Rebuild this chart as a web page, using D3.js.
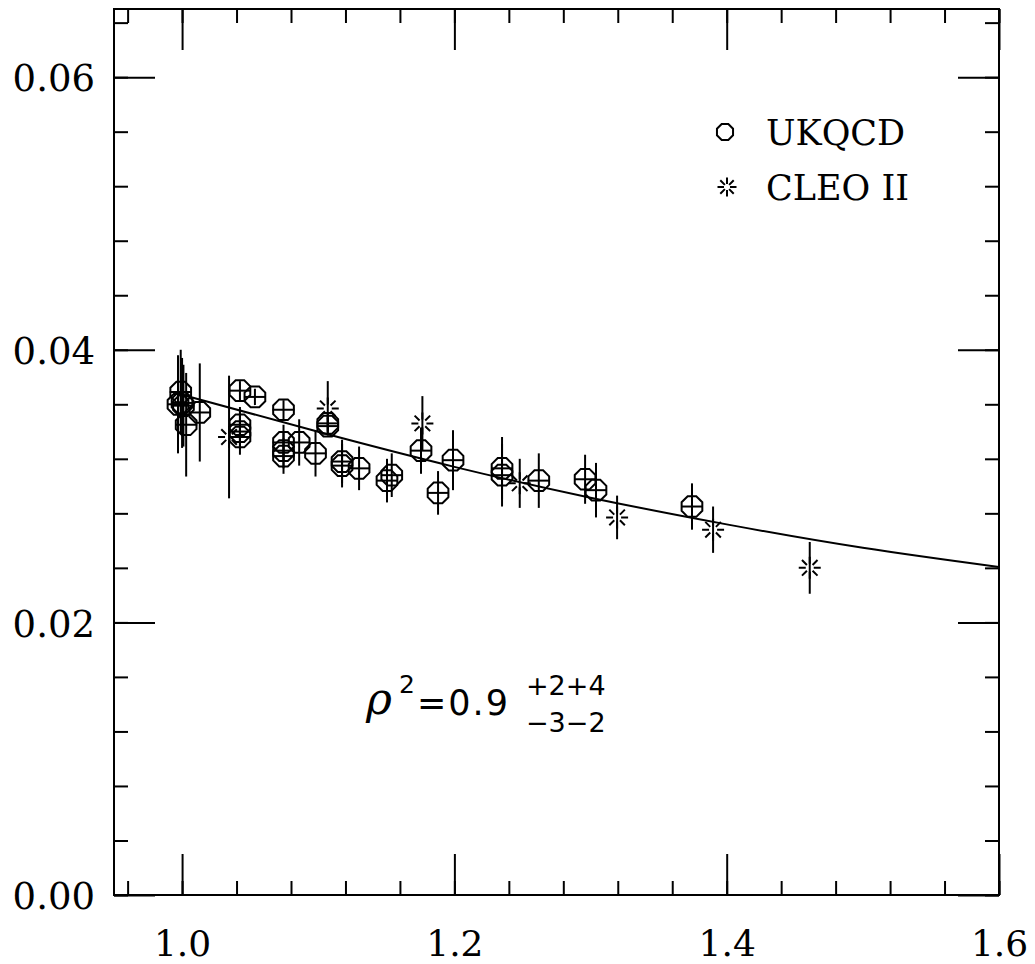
<!DOCTYPE html>
<html><head><meta charset="utf-8">
<script src="https://cdn.jsdelivr.net/npm/d3@7"></script>
<style>body{margin:0;background:#fff;} svg{display:block}</style>
</head><body>
<svg id="chart" width="1035" height="964"></svg>
<script>
// ---- data ----
const ukqcdW   = [0.997, 0.999, 1.000, 1.001, 1.003, 1.013, 1.0425, 1.0425, 1.0425, 1.0425, 1.0535, 1.0745, 1.0745, 1.0745, 1.0745, 1.086, 1.098, 1.107, 1.107, 1.1175, 1.1175, 1.130, 1.1505, 1.154, 1.1755, 1.188, 1.199, 1.235, 1.235, 1.262, 1.296, 1.304, 1.3745];
const ukqcdY   = [0.0360, 0.0369, 0.0361, 0.0359, 0.0345, 0.0354, 0.0370, 0.0345, 0.0340, 0.0336, 0.03654, 0.0356, 0.0332, 0.0326, 0.0322, 0.0332, 0.0324, 0.0346, 0.0344, 0.0318, 0.0315, 0.0313, 0.0304, 0.0308, 0.0326, 0.0295, 0.0319, 0.0313, 0.0308, 0.0304, 0.0305, 0.0297, 0.0285];
const ukqcdErr = [0.0036, 0.0031, 0.0033, 0.0030, 0.0038, 0.0036, 0.0007, 0.0013, 0.0013, 0.0013, 0.0006, 0.0007, 0.0013, 0.0013, 0.0013, 0.0017, 0.0017, 0.0006, 0.0006, 0.0016, 0.0016, 0.0016, 0.0016, 0.0016, 0.0017, 0.0016, 0.0022, 0.0023, 0.0023, 0.0020, 0.0018, 0.0020, 0.0017];

const cleoW   = [1.0345, 1.107, 1.1765, 1.248, 1.3195, 1.390, 1.461];
const cleoY   = [0.0336, 0.0357, 0.0346, 0.0302, 0.0277, 0.0268, 0.0240];
const cleoErr = [0.0045, 0.0020, 0.0020, 0.0018, 0.0016, 0.0017, 0.0019];

const curveW = [1.0, 1.1, 1.2, 1.3, 1.4, 1.5, 1.6];
const curveY = [0.0367, 0.03398, 0.03141, 0.02915, 0.02719, 0.02547, 0.02406];

const xMinorTicks = d3.range(0, 17).map(i => +(0.96 + 0.04 * i).toFixed(2));
const xMajorTicks = [1.0, 1.2, 1.4, 1.6];
const xTickLabels = ["1.0", "1.2", "1.4", "1.6"];
const yMinorTicks = d3.range(0, 17).map(i => +(0.004 * i).toFixed(3));
const yMajorTicks = [0.00, 0.02, 0.04, 0.06];
const yTickLabels = ["0.00", "0.02", "0.04", "0.06"];

const legendLabels = ["UKQCD", "CLEO II"];

// ---- chart ----
const svg = d3.select("#chart");
const L = 114, R = 999, T = 9, B = 895;
const x = d3.scaleLinear().domain([0.95, 1.6]).range([L, R]);
const y = d3.scaleLinear().domain([0, 0.065]).range([B, T]);

const serif = "'DejaVu Serif', serif";
const sans = "'DejaVu Sans', sans-serif";

function styleAxis(g) {
  g.select(".domain").remove();
  g.selectAll(".tick line").attr("stroke", "#000").attr("stroke-width", 2);
}

// bottom
svg.append("g").attr("transform", `translate(0,${B})`)
  .call(d3.axisBottom(x).tickValues(xMinorTicks).tickSize(-14).tickFormat(""))
  .call(styleAxis);
const bx = svg.append("g").attr("transform", `translate(0,${B})`)
  .call(d3.axisBottom(x).tickValues(xMajorTicks).tickSize(-41)
        .tickFormat((d, i) => xTickLabels[i]))
  .call(styleAxis);
bx.selectAll("text").attr("y", 61).attr("dy", 0)
  .attr("font-family", serif).attr("font-size", 36).attr("fill", "#000");
// top
svg.append("g").attr("transform", `translate(0,${T})`)
  .call(d3.axisTop(x).tickValues(xMinorTicks).tickSize(-14).tickFormat(""))
  .call(styleAxis);
svg.append("g").attr("transform", `translate(0,${T})`)
  .call(d3.axisTop(x).tickValues(xMajorTicks).tickSize(-41).tickFormat(""))
  .call(styleAxis);
// left
svg.append("g").attr("transform", `translate(${L},0)`)
  .call(d3.axisLeft(y).tickValues(yMinorTicks).tickSize(-14).tickFormat(""))
  .call(styleAxis);
const ly = svg.append("g").attr("transform", `translate(${L},0)`)
  .call(d3.axisLeft(y).tickValues(yMajorTicks).tickSize(-41)
        .tickFormat((d, i) => yTickLabels[i]))
  .call(styleAxis);
ly.selectAll("text").attr("x", -19).attr("dy", "0.37em")
  .attr("font-family", serif).attr("font-size", 37).attr("fill", "#000");
// right
svg.append("g").attr("transform", `translate(${R},0)`)
  .call(d3.axisRight(y).tickValues(yMinorTicks).tickSize(-14).tickFormat(""))
  .call(styleAxis);
svg.append("g").attr("transform", `translate(${R},0)`)
  .call(d3.axisRight(y).tickValues(yMajorTicks).tickSize(-41).tickFormat(""))
  .call(styleAxis);

// frame
svg.append("rect").attr("x", L).attr("y", T).attr("width", R - L).attr("height", B - T)
  .attr("fill", "none").attr("stroke", "#000").attr("stroke-width", 2);

// curve
const curveData = curveW.map((w, i) => [w, curveY[i]]);
svg.append("path").datum(curveData)
  .attr("d", d3.line().x(d => x(d[0])).y(d => y(d[1])).curve(d3.curveNatural))
  .attr("fill", "none").attr("stroke", "#000").attr("stroke-width", 2);

// symbols
function octagon(r) {
  const pts = d3.range(8).map(k => {
    const a = (22.5 + 45 * k) * Math.PI / 180;
    return [r * Math.cos(a), r * Math.sin(a)];
  });
  return "M" + pts.map(p => p[0].toFixed(2) + "," + p[1].toFixed(2)).join("L") + "Z";
}
function star(r1, r2) {
  let d = "";
  for (let k = 0; k < 8; k++) {
    const a = 45 * k * Math.PI / 180;
    d += `M${(r1 * Math.cos(a)).toFixed(2)},${(r1 * Math.sin(a)).toFixed(2)}L${(r2 * Math.cos(a)).toFixed(2)},${(r2 * Math.sin(a)).toFixed(2)}`;
  }
  return d;
}

const uk = ukqcdW.map((w, i) => ({w, v: ukqcdY[i], e: ukqcdErr[i]}));
const cl = cleoW.map((w, i) => ({w, v: cleoY[i], e: cleoErr[i]}));

const gU = svg.append("g").attr("stroke", "#000").attr("stroke-width", 2).attr("fill", "none");
gU.selectAll("line.err").data(uk).join("line")
  .attr("x1", d => x(d.w)).attr("x2", d => x(d.w))
  .attr("y1", d => y(d.v + d.e)).attr("y2", d => y(d.v - d.e));
gU.selectAll("line.hb").data(uk).join("line").attr("class", "hb")
  .attr("x1", d => x(d.w) - 11).attr("x2", d => x(d.w) + 11)
  .attr("y1", d => y(d.v)).attr("y2", d => y(d.v));
gU.selectAll("path").data(uk).join("path")
  .attr("d", octagon(11.2))
  .attr("transform", d => `translate(${x(d.w)},${y(d.v)})`);

const gC = svg.append("g").attr("stroke", "#000").attr("stroke-width", 2).attr("fill", "none");
gC.selectAll("line").data(cl).join("line")
  .attr("x1", d => x(d.w)).attr("x2", d => x(d.w))
  .attr("y1", d => y(d.v + d.e)).attr("y2", d => y(d.v - d.e));
gC.selectAll("path").data(cl).join("path")
  .attr("d", star(4, 11))
  .attr("transform", d => `translate(${x(d.w)},${y(d.v)})`);

// legend
const lg = svg.append("g");
lg.append("path").attr("d", octagon(8.7)).attr("transform", "translate(725,132)")
  .attr("fill", "none").attr("stroke", "#000").attr("stroke-width", 2);
lg.append("path").attr("d", star(3, 9.5)).attr("transform", "translate(727,187)")
  .attr("fill", "none").attr("stroke", "#000").attr("stroke-width", 2);
lg.selectAll("text").data(legendLabels).join("text")
  .attr("x", 766).attr("y", (d, i) => 145 + i * 55)
  .attr("font-family", serif).attr("font-size", 35).attr("fill", "#000")
  .text(d => d);

// formula
const fg = svg.append("g").attr("fill", "#000");
fg.append("text").attr("x", 366).attr("y", 714).attr("font-family", serif)
  .attr("font-style", "italic").attr("font-size", 44).text("ρ");
fg.append("text").attr("x", 399).attr("y", 693).attr("font-family", sans)
  .attr("font-size", 25).text("2");
fg.append("text").attr("x", 417).attr("y", 715).attr("font-family", sans)
  .attr("font-size", 35).attr("letter-spacing", 2).text("=0.9");
fg.append("text").attr("x", 526).attr("y", 695).attr("font-family", sans)
  .attr("font-size", 27).text("+2+4");
fg.append("text").attr("x", 526).attr("y", 732).attr("font-family", sans)
  .attr("font-size", 27).text("\u22123\u22122");
</script>
</body></html>
